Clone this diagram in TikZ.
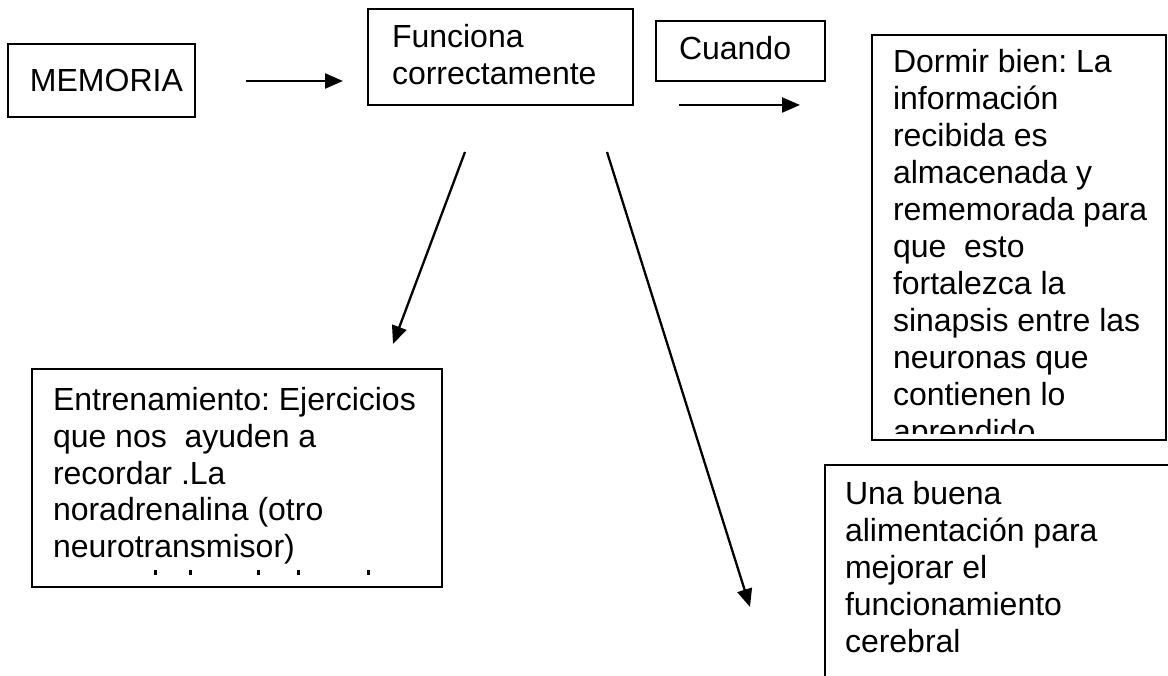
\documentclass[tikz,border=0pt]{standalone}
\usepackage{fontspec}
\setmainfont{Liberation Sans}
\usetikzlibrary{arrows.meta}
\frenchspacing
\newcommand{\bodyfont}{\fontsize{32}{37}\selectfont}
\newcommand{\boxlines}[1]{\parbox[t]{420pt}{\raggedright\frenchspacing\bodyfont #1}}
\tikzset{
  box/.style={draw=black, line width=1.5pt, anchor=north west, inner sep=0pt, outer sep=0pt},
  txt/.style={anchor=base west, inner sep=0pt, outer sep=0pt, font=\bodyfont},
  arr/.style={line width=2.3pt, -{Triangle[length=18pt,width=15pt]}},
  tick/.style={fill=black, draw=none}
}
\begin{document}
\begin{tikzpicture}[x=1pt,y=-1pt]
\useasboundingbox (0,0) rectangle (1168,676);
\clip (0,0) rectangle (1168,676);

% boxes
\node[box, minimum width=187pt, minimum height=73pt] (mem) at (8,44) {};
\node[box, minimum width=265pt, minimum height=96pt] (fun) at (368,9) {};
\node[box, minimum width=169pt, minimum height=60pt] (cua) at (656,21) {};
\node[box, minimum width=294pt, minimum height=405pt] (dor) at (872,35) {};
\node[box, minimum width=410pt, minimum height=218pt] (ent) at (32,369) {};
\draw[line width=1.5pt] (825,690) coordinate (unaA) -- (825,465) coordinate (unaB) -- (1180,465) coordinate (unaC);

% texts
\node[txt] (memt) at (30,92) {MEMORIA};
\node[txt] (funt) at (392,48) {\boxlines{Funciona\\correctamente}};
\node[txt] (cuat) at (679,60) {Cuando};
\begin{scope}
  \clip (872,35) rectangle (1166,433);
  \node[txt] (dort) at (893,73) {\boxlines{Dormir bien: La\\información\\recibida es\\almacenada y\\rememorada para\\que\ \ esto\\fortalezca la\\sinapsis entre las\\neuronas que\\contienen lo\\aprendido}};
\end{scope}
\node[txt] (entt) at (53,410) {\boxlines{Entrenamiento: Ejercicios\\que nos\ \ ayuden a\\recordar .La\\noradrenalina (otro\\neurotransmisor)}};
\foreach \xx in {155,190,258,298,368}{
  \fill[tick] (\xx-1.5,570) rectangle (\xx+1.5,575);
}
\node[txt] (unat) at (845,504) {\boxlines{Una buena\\alimentación para\\mejorar el\\funcionamiento\\cerebral}};

% connectors
\coordinate (a1s) at (246,81);  \coordinate (a1e) at (343,81);
\coordinate (a2s) at (679,105); \coordinate (a2e) at (800,105);
\coordinate (a3s) at (465,152); \coordinate (a3e) at (393,344);
\coordinate (a4s) at (607,152); \coordinate (a4e) at (750,607);
\draw[arr] (a1s) -- (a1e);
\draw[arr] (a2s) -- (a2e);
\draw[arr] (a3s) -- (a3e);
\draw[arr] (a4s) -- (a4e);
\end{tikzpicture}
\end{document}
